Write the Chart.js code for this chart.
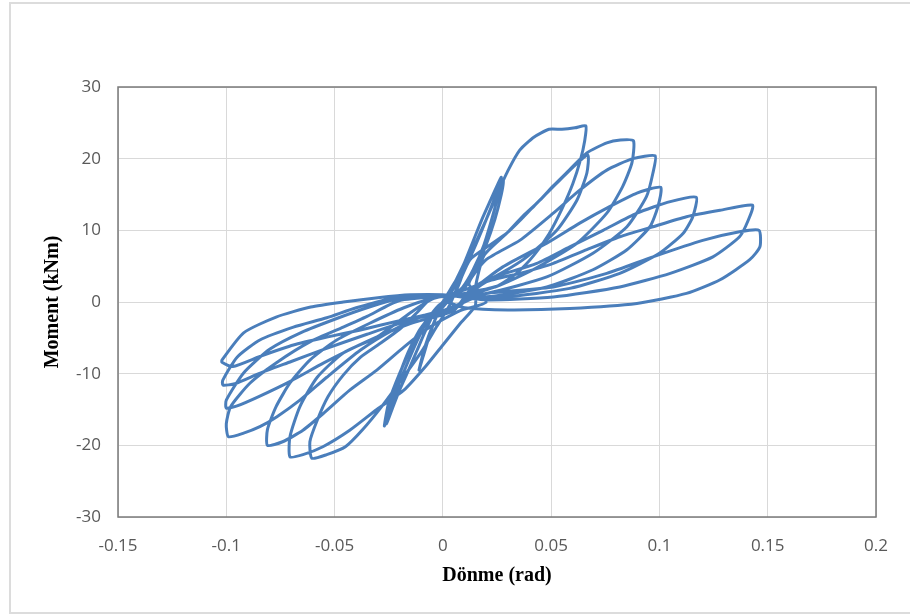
<!DOCTYPE html>
<html>
<head>
<meta charset="utf-8">
<script src="https://cdn.jsdelivr.net/npm/chart.js@4.4.1/dist/chart.umd.min.js"></script>
<style>
  html, body { margin: 0; padding: 0; background: #fff; }
  #wrap { width: 910px; height: 615px; }
</style>
</head>
<body>
<div id="wrap"><canvas id="chart" width="910" height="615"></canvas></div>
<script>
// Moment vs rotation hysteresis, read off the picture loop by loop
// each loop: [rotation (rad), moment (kNm)]

const xTicks = [-0.15, -0.1, -0.05, 0, 0.05, 0.1, 0.15, 0.2];
const yTicks = [-30, -20, -10, 0, 10, 20, 30];

const loop1 = [
  [0, 0], [0.003, 1.5], [0.006, 3], [0.009, 4.5], [0.010, 5.2], [0.009, 3.8], [0.006, 1.5],
  [0.002, 0], [-0.002, -1.5], [-0.005, -3.5], [-0.008, -6], [-0.010, -8.2], [-0.011, -9.5],
  [-0.009, -7.5], [-0.006, -4.5], [-0.003, -2], [0, -0.5], [0.003, 1]
];
const loop2 = [
  [0.006, 3], [0.010, 5.5], [0.014, 8.5], [0.018, 11.5], [0.022, 14.2], [0.025, 16.2], [0.027, 17.4],
  [0.026, 15.5], [0.023, 12], [0.019, 8], [0.014, 4.5], [0.009, 2], [0.004, 0.8], [0, 0],
  [-0.004, -1.5], [-0.008, -4], [-0.012, -6.8], [-0.016, -9.6], [-0.020, -12.3], [-0.023, -14.6], [-0.026, -17],
  [-0.025, -15], [-0.021, -11], [-0.016, -7], [-0.011, -4], [-0.006, -2], [-0.001, -0.3], [0.004, 1.5]
];
const loop3 = [
  [0.008, 3.5], [0.013, 6.5], [0.018, 10], [0.022, 13], [0.025, 15.3], [0.028, 17],
  [0.027, 15], [0.024, 11.5], [0.020, 8], [0.015, 4.5], [0.010, 2], [0.004, 0.7],
  [-0.002, -0.5], [-0.007, -2.5], [-0.012, -5.5], [-0.017, -9], [-0.021, -12], [-0.025, -15.5], [-0.027, -17.3],
  [-0.025, -14], [-0.020, -10], [-0.014, -6], [-0.008, -3], [-0.002, -1]
];
const loop4 = [
  [0.002, 0.5], [0.008, 3.5], [0.014, 7.5], [0.020, 11.5], [0.025, 15], [0.030, 18.3], [0.0355, 21.2],
  [0.042, 23], [0.049, 24.1], [0.055, 24.1], [0.061, 24.3], [0.066, 24.6],
  [0.0655, 22.5], [0.0635, 19.8], [0.060, 16.5], [0.055, 13], [0.049, 9.5], [0.042, 6.5], [0.034, 4],
  [0.025, 2.2], [0.015, 1.3], [0.005, 1],
  [-0.005, 0.6], [-0.012, -1.5], [-0.020, -3.8], [-0.030, -6], [-0.038, -7.7], [-0.046, -10.2],
  [-0.053, -13.2], [-0.058, -16.5], [-0.0614, -19.5], [-0.0605, -21.8],
  [-0.0536, -21.3], [-0.045, -20.2], [-0.037, -17.8], [-0.028, -14.5], [-0.019, -10.8], [-0.010, -7],
  [-0.003, -3.5], [0.003, -0.5]
];
const loop5 = [
  [0.008, 3], [0.0125, 5.9], [0.021, 7.8], [0.0295, 9.6], [0.037, 11.8], [0.0434, 13.8], [0.049, 15.5],
  [0.054, 17], [0.060, 18.8], [0.067, 20.5],
  [0.0665, 18], [0.0619, 14.2], [0.0526, 10], [0.0388, 6.3], [0.028, 4.2], [0.017, 2.5], [0.005, 1.2],
  [-0.005, 0.4], [-0.015, -1.5], [-0.0305, -4.9], [-0.046, -7.1], [-0.058, -10.5], [-0.066, -14.6],
  [-0.0706, -18.8], [-0.0706, -21.6],
  [-0.0646, -21.3], [-0.0554, -20.2], [-0.043, -17.9], [-0.0305, -15], [-0.018, -12.3], [-0.008, -9],
  [0, -6], [0.008, -3], [0.015, -0.5]
];
const loop6 = [
  [0.015, 2], [0.019, 6.5], [0.0295, 9.6], [0.037, 12], [0.0448, 14.2], [0.051, 16.2], [0.057, 18],
  [0.0665, 20.8], [0.0757, 22.2], [0.082, 22.6], [0.088, 22.5],
  [0.0873, 19.4], [0.083, 16.1], [0.0757, 12.4], [0.0619, 8.2], [0.0416, 4.5], [0.025, 2.2], [0.010, 1.2],
  [-0.005, 0.5], [-0.018, -0.8], [-0.034, -3], [-0.049, -5.3], [-0.0614, -8.1], [-0.0706, -11.3],
  [-0.077, -14.6], [-0.081, -17.8], [-0.081, -20],
  [-0.074, -19.5], [-0.0646, -17.9], [-0.055, -15.5], [-0.043, -12.3], [-0.0305, -9.5], [-0.018, -6.3],
  [-0.006, -3.5], [0.008, -1.2], [0.020, 0]
];
const loop7 = [
  [0.012, 2.5], [0.020, 5.9], [0.0355, 8.6], [0.051, 12.4], [0.0632, 15.6], [0.0757, 18.4], [0.0877, 20],
  [0.098, 20.4],
  [0.097, 18], [0.094, 14.7], [0.085, 10.5], [0.0693, 6.8], [0.048, 3.5], [0.020, 1.2], [0, 0.8],
  [-0.020, 0.2], [-0.035, -2], [-0.046, -3.5], [-0.061, -5.5], [-0.077, -8.5], [-0.089, -11.3],
  [-0.098, -14.6], [-0.100, -17], [-0.099, -18.8],
  [-0.092, -18.3], [-0.0845, -17.4], [-0.0766, -16], [-0.066, -13.7], [-0.0536, -10.5], [-0.038, -6.7],
  [-0.023, -3.9], [-0.008, -1.8], [0.008, -0.5]
];
const loop8 = [
  [0.015, 2], [0.0277, 4.9], [0.048, 8.2], [0.0632, 11], [0.077, 13.3], [0.0896, 15.2], [0.1006, 16],
  [0.0993, 13.3], [0.0956, 10.5], [0.085, 7.3], [0.0693, 4.5], [0.048, 2.1], [0.020, 0.7], [0, 0.9],
  [-0.020, 0.5], [-0.035, -0.8], [-0.049, -2.3], [-0.065, -4.2], [-0.080, -6.6], [-0.092, -9.9],
  [-0.100, -13.7], [-0.100, -14.8],
  [-0.095, -14.5], [-0.085, -13.2], [-0.070, -11], [-0.055, -8.5], [-0.035, -5.5], [-0.015, -3], [0.005, -1.2]
];
const loop9 = [
  [0.012, 1.5], [0.020, 3.1], [0.0434, 5.4], [0.0586, 7.7], [0.074, 10], [0.0896, 12.4], [0.105, 14],
  [0.117, 14.6],
  [0.1154, 11.9], [0.111, 9.6], [0.100, 6.8], [0.0817, 4], [0.0586, 1.9], [0.0277, 0.7], [0, 1],
  [-0.020, 0.7], [-0.040, -0.8], [-0.0536, -2.2], [-0.069, -3.5], [-0.0845, -5.3], [-0.095, -7.7],
  [-0.1016, -10.9], [-0.1016, -11.6],
  [-0.096, -11.4], [-0.085, -10], [-0.070, -8.3], [-0.055, -6.6], [-0.035, -4.5], [-0.015, -2.5], [0.005, -1]
];
const loop10 = [
  [0.010, 0.5], [0.020, 2.8], [0.0355, 4], [0.051, 5.4], [0.0665, 7.3], [0.0817, 9.1], [0.097, 10.5],
  [0.1125, 11.9], [0.128, 12.8], [0.143, 13.5],
  [0.141, 11.4], [0.137, 9.1], [0.1247, 6.3], [0.105, 4], [0.0817, 2.1], [0.051, 0.7], [0.020, 0.3], [0, 1],
  [-0.015, 1], [-0.030, 0.6], [-0.046, 0], [-0.061, -0.7], [-0.077, -2.1], [-0.092, -4.3], [-0.102, -8.1],
  [-0.102, -8.4],
  [-0.097, -9], [-0.0845, -7.6], [-0.069, -6], [-0.0536, -4.9], [-0.038, -3.9], [-0.020, -2.6], [0, -1.2],
  [0.010, 0]
];
const loop11 = [
  [0.020, 1.2], [0.051, 2.1], [0.0757, 4], [0.097, 6.3], [0.120, 8.6], [0.137, 9.8], [0.146, 10],
  [0.1464, 7.7], [0.1417, 5.9], [0.128, 3.1], [0.1125, 1.2], [0.0896, -0.2], [0.0586, -0.9], [0.030, -1.1],
  [0.010, -0.8], [0.002, 0]
];

const loops = [loop1, loop2, loop3, loop4, loop5, loop6, loop7, loop8, loop9, loop10, loop11];
const points = loops.flat().map(([x, y]) => ({ x, y }));

const LINE = '#4A7EBB';
const TICK = '#595959';
const GRID = '#d9d9d9';

const fmtTick = (v) => String(Number(v.toFixed(2)));

// page frame + plot box like the Excel export
const framePlugin = {
  id: 'frame',
  beforeDraw(chart) {
    const c = chart.ctx;
    c.save();
    c.fillStyle = '#fff';
    c.fillRect(0, 0, chart.width, chart.height);
    c.strokeStyle = '#dcdcdc';
    c.lineWidth = 2;
    c.strokeRect(10, 3, chart.width + 10, 610);
    c.restore();
  },
  beforeDatasetsDraw(chart) {
    const { left, top, right, bottom } = chart.chartArea;
    const c = chart.ctx;
    c.save();
    c.strokeStyle = '#7a7a7a';
    c.lineWidth = 1.5;
    c.strokeRect(left, top, right - left, bottom - top);
    c.restore();
  },
};

new Chart(document.getElementById('chart'), {
  type: 'scatter',
  data: {
    datasets: [{
      data: points,
      showLine: true,
      borderColor: LINE,
      backgroundColor: LINE,
      borderWidth: 3,
      pointRadius: 0,
      tension: 0.2,
    }],
  },
  options: {
    responsive: false,
    animation: false,
    layout: { padding: { left: 0, top: 87, right: 34, bottom: 0 } },
    plugins: { legend: { display: false }, tooltip: { enabled: false } },
    scales: {
      x: {
        type: 'linear', min: -0.15, max: 0.2,
        afterBuildTicks: (s) => { s.ticks = xTicks.map(v => ({ value: v })); },
        afterFit: (s) => { s.height = 98; },
        ticks: { color: TICK, padding: 19, maxRotation: 0, font: { family: 'Open Sans', size: 17 }, callback: fmtTick },
        grid: { color: GRID, drawTicks: false },
        border: { display: false },
        title: {
          display: true, text: 'Dönme (rad)', color: '#000',
          font: { family: 'Liberation Serif', size: 20, weight: 'bold' },
          padding: { top: 0, bottom: 27 },
        },
      },
      y: {
        type: 'linear', min: -30, max: 30,
        afterBuildTicks: (s) => { s.ticks = yTicks.map(v => ({ value: v })); },
        afterFit: (s) => { s.width = 118; },
        ticks: { color: TICK, padding: 17, font: { family: 'Open Sans', size: 17 }, callback: (v) => String(v) },
        grid: { color: GRID, drawTicks: false },
        border: { display: false },
        title: {
          display: true, text: 'Moment (kNm)', color: '#000',
          font: { family: 'Liberation Serif', size: 20, weight: 'bold' },
          padding: { top: 41, bottom: 0 },
        },
      },
    },
  },
  plugins: [framePlugin],
});
</script>
</body>
</html>
